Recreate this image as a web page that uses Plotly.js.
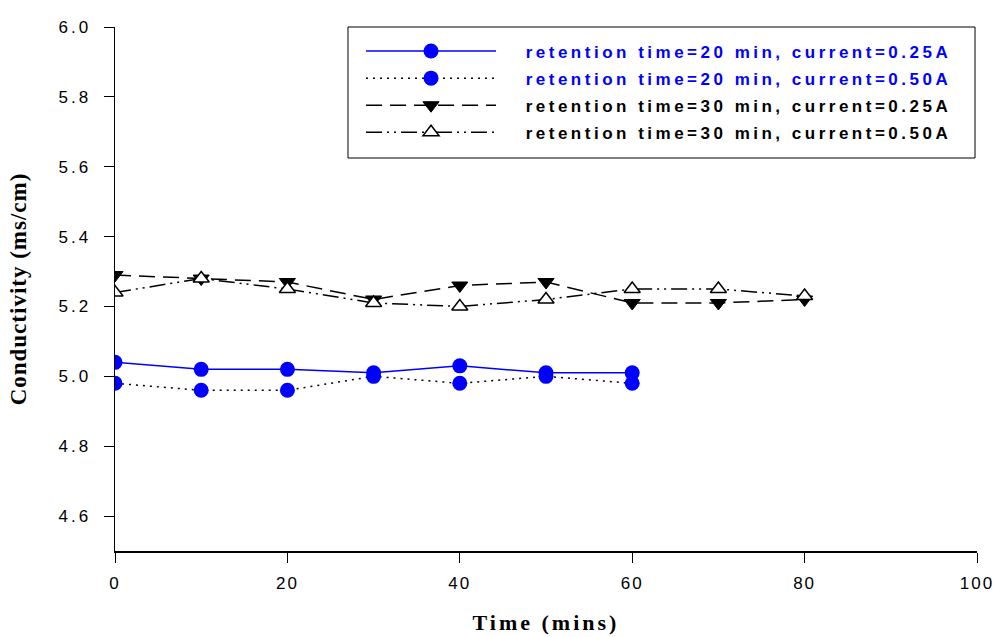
<!DOCTYPE html>
<html>
<head>
<meta charset="utf-8">
<script src="https://cdn.plot.ly/plotly-3.0.1.min.js"></script>
<style>
  html, body { margin: 0; padding: 0; background: #fff; }
  #chart { width: 995px; height: 637px; }
</style>
</head>
<body>
<div id="chart"></div>
<script>
// Sampling times (minutes)
const time20 = [0, 10, 20, 30, 40, 50, 60];
const time30 = [0, 10, 20, 30, 40, 50, 60, 70, 80];

// Conductivity readings (ms/cm)
const rt20_i025 = [5.04, 5.02, 5.02, 5.01, 5.03, 5.01, 5.01];
const rt20_i050 = [4.98, 4.96, 4.96, 5.00, 4.98, 5.00, 4.98];
const rt30_i025 = [5.29, 5.28, 5.27, 5.22, 5.26, 5.27, 5.21, 5.21, 5.22];
const rt30_i050 = [5.24, 5.28, 5.25, 5.21, 5.20, 5.22, 5.25, 5.25, 5.23];

// Axis ticks
const xTickVals = [0, 20, 40, 60, 80, 100];
const xTickText = ['0', '20', '40', '60', '80', '100'];
const yTickVals = [4.6, 4.8, 5.0, 5.2, 5.4, 5.6, 5.8, 6.0];
const yTickText = ['4.6', '4.8', '5.0', '5.2', '5.4', '5.6', '5.8', '6.0'];

// Legend labels
const names = [
  'retention time=20 min, current=0.25A',
  'retention time=20 min, current=0.50A',
  'retention time=30 min, current=0.25A',
  'retention time=30 min, current=0.50A'
];

const BLUE = '#0000ff';
const BLACK = '#000000';
const NB = '\u00a0';

function spaced(text, px) {
  return '<span style="letter-spacing:' + px + 'px">' + text + '</span>';
}
function label(text, color) {
  return '<span style="color:' + color + ';letter-spacing:3.5px">' + NB + NB + NB + text + '</span>';
}

const traces = [
  {
    x: time20, y: rt20_i025, name: label(names[0], BLUE), legendgroup: 'a',
    mode: 'lines+markers', type: 'scatter',
    line: { color: BLUE, width: 1.5 },
    marker: { symbol: 'circle', size: 15, color: BLUE }
  },
  {
    x: time20, y: rt20_i050, name: label(names[1], BLUE), legendgroup: 'b',
    mode: 'lines+markers', type: 'scatter',
    line: { color: BLACK, width: 1.5, dash: '2px,5px' },
    marker: { symbol: 'circle', size: 15, color: BLUE }
  },
  {
    x: time30, y: rt30_i025, name: label(names[2], BLACK), legendgroup: 'c',
    mode: 'lines+markers', type: 'scatter',
    line: { color: BLACK, width: 1.5, dash: '16px,8px' },
    marker: { symbol: 'triangle-down', size: 14, color: BLACK, line: { color: BLACK, width: 1 } }
  },
  {
    x: time30, y: rt30_i050, name: label(names[3], BLACK), legendgroup: 'd',
    mode: 'lines+markers', type: 'scatter',
    line: { color: BLACK, width: 1.5, dash: '16px,5px,2px,5px,2px,5px' },
    marker: { symbol: 'triangle-up', size: 14, color: '#ffffff', line: { color: BLACK, width: 1.5 } }
  }
];

const layout = {
  width: 995,
  height: 637,
  margin: { l: 115, r: 18, t: 27, b: 86 },
  paper_bgcolor: '#ffffff',
  plot_bgcolor: '#ffffff',
  showlegend: true,
  legend: {
    x: 0.2854, y: 0.9876, xanchor: 'left', yanchor: 'top',
    bgcolor: 'rgba(0,0,0,0)', borderwidth: 0,
    font: { family: 'Liberation Sans, Arial, sans-serif', size: 17, color: BLACK, weight: 'bold' },
    itemwidth: 130, tracegroupgap: 2, traceorder: 'grouped'
  },
  // frame around the legend block
  shapes: [{
    type: 'rect', xref: 'paper', yref: 'paper',
    x0: 0.2703, x1: 0.9977, y0: 0.75, y1: 1.0,
    line: { color: BLACK, width: 1 }, fillcolor: '#ffffff', layer: 'below'
  }],
  xaxis: {
    range: [0, 100], tickmode: 'array', tickvals: xTickVals,
    ticktext: xTickText.map(t => spaced(t, 2)),
    ticks: 'outside', ticklen: 10, tickwidth: 1, tickcolor: BLACK, ticklabelstandoff: 6,
    showline: true, linecolor: BLACK, linewidth: 1.5, showgrid: false, zeroline: false,
    tickfont: { family: 'Liberation Sans, Arial, sans-serif', size: 17, color: BLACK },
    title: { text: spaced('Time (mins)', 3), standoff: 22,
             font: { family: 'Liberation Serif, Times New Roman, serif', size: 22, color: BLACK, weight: 'bold' } }
  },
  yaxis: {
    range: [4.5, 6.0], tickmode: 'array', tickvals: yTickVals,
    ticktext: yTickText.map(t => spaced(t, 3)),
    ticks: 'outside', ticklen: 10, tickwidth: 1, tickcolor: BLACK, ticklabelstandoff: 9,
    showline: true, linecolor: BLACK, linewidth: 1.5, showgrid: false, zeroline: false,
    tickfont: { family: 'Liberation Sans, Arial, sans-serif', size: 17, color: BLACK },
    title: { text: spaced('Conductivity (ms/cm)', 1), standoff: 25,
             font: { family: 'Liberation Serif, Times New Roman, serif', size: 23, color: BLACK, weight: 'bold' } }
  }
};

Plotly.newPlot('chart', traces, layout, { displayModeBar: false, staticPlot: true });
</script>
</body>
</html>
